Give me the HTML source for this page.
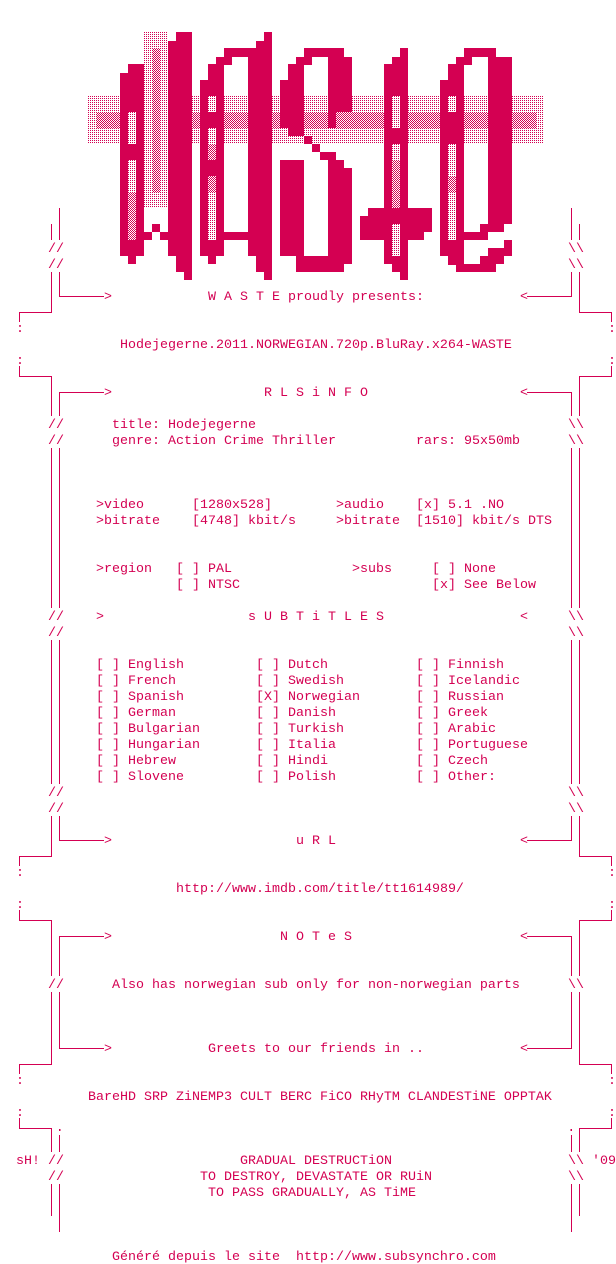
<!DOCTYPE html>
<html><head><meta charset="utf-8"><style>
html,body{margin:0;padding:0;background:#fff;width:616px;height:1264px;overflow:hidden}
svg{display:block}
text{font-family:"Liberation Mono","DejaVu Sans Mono",monospace;font-size:13.33px;fill:#d40052;white-space:pre}
</style></head><body>
<svg width="616" height="1264" viewBox="0 0 616 1264" xmlns="http://www.w3.org/2000/svg" xml:space="preserve">
<defs>
<pattern id="lt" width="2" height="2" patternUnits="userSpaceOnUse"><rect width="1" height="1" fill="#d40052"/></pattern>
<pattern id="md" width="2" height="2" patternUnits="userSpaceOnUse"><rect width="1" height="1" fill="#d40052"/><rect x="1" y="1" width="1" height="1" fill="#d40052"/></pattern>
</defs>
<!-- shading band -->
<rect x="88" y="96" width="456" height="48" fill="url(#lt)"/>
<rect x="96" y="112" width="440" height="16" fill="#fff"/>
<rect x="96" y="112" width="440" height="16" fill="url(#md)"/>
<!-- letter 1 middle shaded column -->
<rect x="144" y="32" width="24" height="176" fill="#fff"/>
<rect x="144" y="32" width="24" height="176" fill="url(#lt)"/>
<rect x="152" y="48" width="8" height="144" fill="#fff"/>
<rect x="152" y="48" width="8" height="144" fill="url(#md)"/>
<g fill="#d40052">
<!-- letter 1 -->
<rect x="120" y="73" width="24" height="183"/>
<rect x="128" y="64" width="16" height="10"/>
<rect x="128" y="256" width="8" height="8"/>
<rect x="144" y="232" width="8" height="8"/>
<rect x="152" y="224" width="8" height="8"/>
<rect x="160" y="232" width="8" height="8"/>
<rect x="168" y="41" width="24" height="215"/>
<rect x="176" y="32" width="16" height="10"/>
<rect x="176" y="256" width="16" height="16"/>
<rect x="184" y="272" width="8" height="8"/>
<!-- letter 2 -->
<rect x="200" y="80" width="24" height="176"/>
<rect x="208" y="64" width="16" height="16"/>
<rect x="216" y="57" width="16" height="8"/>
<rect x="224" y="48" width="32" height="9"/>
<rect x="208" y="256" width="8" height="8"/>
<rect x="248" y="57" width="24" height="199"/>
<rect x="256" y="41" width="16" height="16"/>
<rect x="264" y="32" width="8" height="9"/>
<rect x="256" y="256" width="16" height="16"/>
<rect x="264" y="272" width="8" height="8"/>
<rect x="224" y="232" width="24" height="8"/>
<!-- letter 3 -->
<rect x="280" y="80" width="24" height="48"/>
<rect x="288" y="64" width="16" height="16"/>
<rect x="296" y="57" width="16" height="8"/>
<rect x="304" y="48" width="40" height="9"/>
<rect x="328" y="57" width="24" height="55"/>
<rect x="328" y="112" width="8" height="16"/>
<rect x="288" y="128" width="16" height="8"/>
<rect x="304" y="136" width="8" height="8"/>
<rect x="312" y="144" width="8" height="8"/>
<rect x="320" y="152" width="16" height="8"/>
<rect x="328" y="160" width="16" height="8"/>
<rect x="328" y="168" width="24" height="96"/>
<rect x="280" y="160" width="24" height="96"/>
<rect x="296" y="256" width="48" height="16"/>
<!-- letter 4 -->
<rect x="384" y="64" width="24" height="200"/>
<rect x="392" y="57" width="16" height="8"/>
<rect x="400" y="48" width="8" height="9"/>
<rect x="392" y="264" width="16" height="8"/>
<rect x="400" y="272" width="8" height="8"/>
<rect x="368" y="208" width="64" height="24"/>
<rect x="360" y="216" width="8" height="24"/>
<rect x="360" y="232" width="64" height="8"/>
<!-- letter 5 -->
<rect x="440" y="80" width="24" height="176"/>
<rect x="448" y="64" width="16" height="16"/>
<rect x="456" y="57" width="16" height="8"/>
<rect x="464" y="48" width="32" height="9"/>
<rect x="488" y="57" width="24" height="167"/>
<rect x="480" y="224" width="24" height="8"/>
<rect x="464" y="232" width="24" height="8"/>
<rect x="504" y="240" width="8" height="16"/>
<rect x="488" y="248" width="16" height="8"/>
<rect x="448" y="256" width="16" height="9"/>
<rect x="456" y="264" width="40" height="8"/>
<rect x="480" y="256" width="24" height="8"/>
</g>
<!-- hollows -->
<g fill="#fff">
<rect x="128" y="112" width="8" height="32"/><rect x="128" y="160" width="8" height="80"/>
<rect x="208" y="96" width="8" height="16"/><rect x="208" y="128" width="8" height="32"/><rect x="208" y="176" width="8" height="64"/>
<rect x="392" y="96" width="8" height="32"/><rect x="392" y="144" width="8" height="64"/><rect x="392" y="224" width="8" height="32"/>
<rect x="448" y="96" width="8" height="16"/><rect x="448" y="144" width="8" height="96"/>
</g>
<g fill="url(#lt)">
<rect x="128" y="112" width="8" height="32"/><rect x="128" y="160" width="8" height="32"/>
<rect x="208" y="96" width="8" height="16"/><rect x="208" y="128" width="8" height="16"/><rect x="208" y="192" width="8" height="48"/>
<rect x="392" y="96" width="8" height="32"/><rect x="392" y="144" width="8" height="16"/><rect x="392" y="224" width="8" height="32"/>
<rect x="448" y="96" width="8" height="16"/><rect x="448" y="144" width="8" height="32"/><rect x="448" y="192" width="8" height="48"/>
</g>
<g fill="url(#md)">
<rect x="128" y="192" width="8" height="48"/>
<rect x="208" y="144" width="8" height="16"/><rect x="208" y="176" width="8" height="16"/>
<rect x="392" y="160" width="8" height="48"/>
<rect x="448" y="176" width="8" height="16"/>
</g>

<!-- frame lines -->
<g id="fr" fill="none" stroke="#d40052" stroke-width="1">
<path d="M59.5 208V240M51.5 224V240"/>
<path d="M59.5 272V296.5H104M51.5 272V312.5H19.5V322"/>
<path d="M19.5 366V376.5H51.5V416M59.5 416V392.5H104"/>
<path d="M51.5 448V608M59.5 448V608M51.5 640V784M59.5 640V784"/>
<path d="M59.5 816V840.5H104M51.5 816V856.5H19.5V866"/>
<path d="M19.5 910V920.5H51.5V976M59.5 976V936.5H104"/>
<path d="M51.5 992V1064.5H19.5V1074M59.5 992V1048.5H104"/>
<path d="M19.5 1118V1128.5H51.5V1152M59.5 1135V1152"/>
<path d="M51.5 1184V1216M59.5 1184V1232"/>
<rect x="59" y="1129" width="1.5" height="2" fill="#d40052" stroke="none"/>
</g>
<use href="#fr" transform="translate(631,0) scale(-1,1)"/>

<g>
<text x="48" y="252">//</text><text x="48" y="268">//</text>
<text x="568" y="252">\\</text><text x="568" y="268">\\</text>
<text x="104" y="300">&gt;</text><text x="520" y="300">&lt;</text>
<text x="208" y="300">W A S T E proudly presents:</text>
<text x="16" y="332">:</text><text x="608" y="332">:</text>
<text x="120" y="348">Hodejegerne.2011.NORWEGIAN.720p.BluRay.x264-WASTE</text>
<text x="16" y="364">:</text><text x="608" y="364">:</text>
<text x="104" y="396">&gt;</text><text x="520" y="396">&lt;</text>
<text x="264" y="396">R L S i N F O</text>
<text x="48" y="428">//</text><text x="568" y="428">\\</text>
<text x="48" y="444">//</text><text x="568" y="444">\\</text>
<text x="112" y="428">title: Hodejegerne</text>
<text x="112" y="444">genre: Action Crime Thriller</text><text x="416" y="444">rars: 95x50mb</text>
<text x="96" y="508">&gt;video</text><text x="192" y="508">[1280x528]</text><text x="336" y="508">&gt;audio</text><text x="416" y="508">[x] 5.1 .NO</text>
<text x="96" y="524">&gt;bitrate</text><text x="192" y="524">[4748] kbit/s</text><text x="336" y="524">&gt;bitrate</text><text x="416" y="524">[1510] kbit/s DTS</text>
<text x="96" y="572">&gt;region</text><text x="176" y="572">[ ] PAL</text><text x="352" y="572">&gt;subs</text><text x="432" y="572">[ ] None</text>
<text x="176" y="588">[ ] NTSC</text><text x="432" y="588">[x] See Below</text>
<text x="48" y="620">//</text><text x="568" y="620">\\</text>
<text x="48" y="636">//</text><text x="568" y="636">\\</text>
<text x="96" y="620">&gt;</text><text x="248" y="620">s U B T i T L E S</text><text x="520" y="620">&lt;</text>
<text x="96" y="668">[ ] English</text><text x="256" y="668">[ ] Dutch</text><text x="416" y="668">[ ] Finnish</text>
<text x="96" y="684">[ ] French</text><text x="256" y="684">[ ] Swedish</text><text x="416" y="684">[ ] Icelandic</text>
<text x="96" y="700">[ ] Spanish</text><text x="256" y="700">[X] Norwegian</text><text x="416" y="700">[ ] Russian</text>
<text x="96" y="716">[ ] German</text><text x="256" y="716">[ ] Danish</text><text x="416" y="716">[ ] Greek</text>
<text x="96" y="732">[ ] Bulgarian</text><text x="256" y="732">[ ] Turkish</text><text x="416" y="732">[ ] Arabic</text>
<text x="96" y="748">[ ] Hungarian</text><text x="256" y="748">[ ] Italia</text><text x="416" y="748">[ ] Portuguese</text>
<text x="96" y="764">[ ] Hebrew</text><text x="256" y="764">[ ] Hindi</text><text x="416" y="764">[ ] Czech</text>
<text x="96" y="780">[ ] Slovene</text><text x="256" y="780">[ ] Polish</text><text x="416" y="780">[ ] Other:</text>
<text x="48" y="796">//</text><text x="568" y="796">\\</text>
<text x="48" y="812">//</text><text x="568" y="812">\\</text>
<text x="104" y="844">&gt;</text><text x="520" y="844">&lt;</text>
<text x="296" y="844">u R L</text>
<text x="16" y="876">:</text><text x="608" y="876">:</text>
<text x="176" y="892">http://www.imdb.com/title/tt1614989/</text>
<text x="16" y="908">:</text><text x="608" y="908">:</text>
<text x="104" y="940">&gt;</text><text x="520" y="940">&lt;</text>
<text x="280" y="940">N O T e S</text>
<text x="48" y="988">//</text><text x="568" y="988">\\</text>
<text x="112" y="988">Also has norwegian sub only for non-norwegian parts</text>
<text x="104" y="1052">&gt;</text><text x="520" y="1052">&lt;</text>
<text x="208" y="1052">Greets to our friends in ..</text>
<text x="16" y="1084">:</text><text x="608" y="1084">:</text>
<text x="88" y="1100">BareHD SRP ZiNEMP3 CULT BERC FiCO RHyTM CLANDESTiNE OPPTAK</text>
<text x="16" y="1116">:</text><text x="608" y="1116">:</text>
<text x="16" y="1164">sH! //</text><text x="568" y="1164">\\ '09</text>
<text x="240" y="1164">GRADUAL DESTRUCTiON</text>
<text x="48" y="1180">//</text><text x="568" y="1180">\\</text>
<text x="200" y="1180">TO DESTROY, DEVASTATE OR RUiN</text>
<text x="208" y="1196">TO PASS GRADUALLY, AS TiME</text>
<text x="112" y="1260">Généré depuis le site  http://www.subsynchro.com</text>
</g>
</svg>
</body></html>
